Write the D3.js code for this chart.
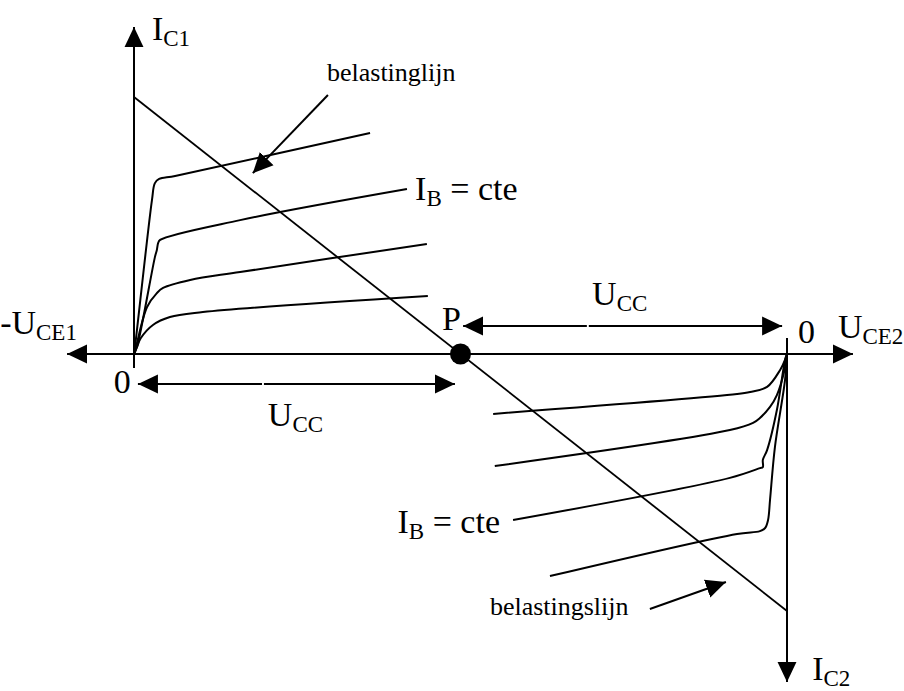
<!DOCTYPE html>
<html>
<head>
<meta charset="utf-8">
<script src="https://cdn.jsdelivr.net/npm/d3@7"></script>
<style>
  body { margin: 0; background: #fff; }
  svg text { font-family: 'Liberation Serif', 'Times New Roman', serif; fill: #000; }
</style>
</head>
<body>
<div id="chart"></div>
<script>
// U in units of Ucc, I in units of Imax. Transistor 2 has its origin at U = 2.
const loadLine = [[0, 1], [2, -1]];
const pointP = [1, 0];

// transistor 1 output curves (U_CE1, I_C1)
const curves1 = [
  [[0, 0], [0.003, 0.027], [0.055, 0.599], [0.064, 0.665], [0.077, 0.681], [0.126, 0.693], [0.723, 0.860]],
  [[0, 0], [0.009, 0.027], [0.064, 0.377], [0.070, 0.405], [0.074, 0.432], [0.080, 0.444], [0.325, 0.521], [0.836, 0.642]],
  [[0, 0], [0.006, 0.027], [0.040, 0.183], [0.070, 0.237], [0.089, 0.257], [0.172, 0.288], [0.325, 0.319], [0.897, 0.428]],
  [[0, 0], [0.009, 0.027], [0.021, 0.062], [0.058, 0.113], [0.110, 0.144], [0.211, 0.163], [0.900, 0.226]]
];

// transistor 2 curves (|U_CE2|, |I_C2|) measured from its own origin
const curves2 = [
  [[0, 0], [0.006, 0.023], [0.021, 0.062], [0.061, 0.128], [0.113, 0.148], [0.153, 0.156], [0.900, 0.233]],
  [[0, 0], [0.009, 0.070], [0.031, 0.160], [0.052, 0.206], [0.083, 0.249], [0.104, 0.268], [0.175, 0.296], [0.895, 0.436]],
  [[0, 0], [0.006, 0.023], [0.031, 0.218], [0.061, 0.374], [0.074, 0.412], [0.074, 0.440], [0.083, 0.444], [0.175, 0.482], [0.839, 0.646]],
  [[0, 0], [0.006, 0.101], [0.037, 0.362], [0.052, 0.568], [0.058, 0.646], [0.067, 0.677], [0.083, 0.689], [0.153, 0.700], [0.726, 0.864]]
];

// axes: [u, i] start and arrow tip
const axes = [
  [[-0.205, 0], [2.202, 0]],
  [[0, -0.054], [0, 1.272]],
  [[2, 0.062], [2, -1.276]]
];
// the common horizontal axis has arrows on both ends
const axisBothEnds = [true, false, false];

// Ucc dimension arrows: level i, from, to, small break
const uccArrows = [
  { i: 0.109, from: 1.008, to: 1.985, gap: 1.39 },
  { i: -0.117, from: 0.012, to: 0.983, gap: 0.395 }
];

// pointer arrows for the load line labels: start, tip
const pointers = [
  [[0.594, 1.008], [0.364, 0.704]],
  [[1.580, -0.992], [1.813, -0.887]]
];

// labels: main text, subscript, trailing text, position, size, anchor
const labels = [
  { t: 'I', sub: 'C1', u: 0.055, i: 1.222 },
  { t: 'belastinglijn', u: 0.591, i: 1.062, size: 26 },
  { t: 'I', sub: 'B', rest: ' = cte', u: 0.861, i: 0.599 },
  { t: '-U', sub: 'CE1', u: -0.410, i: 0.078 },
  { t: 'P', u: 0.943, i: 0.093 },
  { t: 'U', sub: 'CC', u: 1.403, i: 0.191 },
  { t: '0', u: 2.034, i: 0.043 },
  { t: 'U', sub: 'CE2', u: 2.156, i: 0.062 },
  { t: '0', u: -0.062, i: -0.152 },
  { t: 'U', sub: 'CC', u: 0.410, i: -0.280 },
  { t: 'I', sub: 'B', rest: ' = cte', u: 1.121, i: -0.696, anchor: 'end' },
  { t: 'belastingslijn', u: 1.090, i: -1.016, size: 26 },
  { t: 'I', sub: 'C2', u: 2.077, i: -1.268 }
];

const W = 904, H = 691;
const x = d3.scaleLinear().domain([0, 2]).range([134, 787]);
const y = d3.scaleLinear().domain([-1, 1]).range([611, 97]);

const svg = d3.select('#chart').append('svg')
  .attr('width', W).attr('height', H)
  .style('display', 'block');

const defs = svg.append('defs');
defs.append('marker')
  .attr('id', 'head')
  .attr('markerUnits', 'userSpaceOnUse')
  .attr('viewBox', '0 -10 20 20')
  .attr('refX', 20).attr('refY', 0)
  .attr('markerWidth', 20).attr('markerHeight', 20)
  .attr('orient', 'auto-start-reverse')
  .append('path')
  .attr('d', 'M0,-9.5L20,0L0,9.5Z')
  .attr('fill', '#000');

const line = d3.line().x(d => x(d[0])).y(d => y(d[1]));
const curve = d3.line().x(d => x(d[0])).y(d => y(d[1])).curve(d3.curveCatmullRom.alpha(0.5));
const curve2 = d3.line().x(d => x(2 - d[0])).y(d => y(-d[1])).curve(d3.curveCatmullRom.alpha(0.5));

// axes
svg.selectAll('.axis')
  .data(axes)
  .enter()
  .append('path')
  .attr('class', 'axis')
  .attr('d', line)
  .attr('fill', 'none')
  .attr('stroke', '#000')
  .attr('stroke-width', 2)
  .attr('marker-end', 'url(#head)')
  .attr('marker-start', (d, k) => axisBothEnds[k] ? 'url(#head)' : null);

// load line
svg.append('path')
  .attr('d', line(loadLine))
  .attr('fill', 'none')
  .attr('stroke', '#000')
  .attr('stroke-width', 1.8);

// output curves
svg.selectAll('.c1')
  .data(curves1)
  .enter()
  .append('path')
  .attr('class', 'c1')
  .attr('d', curve)
  .attr('fill', 'none')
  .attr('stroke', '#000')
  .attr('stroke-width', 2);

svg.selectAll('.c2')
  .data(curves2)
  .enter()
  .append('path')
  .attr('class', 'c2')
  .attr('d', curve2)
  .attr('fill', 'none')
  .attr('stroke', '#000')
  .attr('stroke-width', 2);

// Ucc dimension arrows, drawn as two halves with a tiny break
uccArrows.forEach(a => {
  svg.append('path')
    .attr('d', line([[a.gap - 0.003, a.i], [a.from, a.i]]))
    .attr('stroke', '#000').attr('stroke-width', 2)
    .attr('marker-end', 'url(#head)');
  svg.append('path')
    .attr('d', line([[a.gap + 0.003, a.i], [a.to, a.i]]))
    .attr('stroke', '#000').attr('stroke-width', 2)
    .attr('marker-end', 'url(#head)');
});

// pointers to the load line
svg.selectAll('.pointer')
  .data(pointers)
  .enter()
  .append('path')
  .attr('class', 'pointer')
  .attr('d', line)
  .attr('stroke', '#000')
  .attr('stroke-width', 2)
  .attr('marker-end', 'url(#head)');

// operating point P
svg.append('circle')
  .attr('cx', x(pointP[0]))
  .attr('cy', y(pointP[1]))
  .attr('r', 10.5)
  .attr('fill', '#000');

// labels
const txt = svg.selectAll('.lbl')
  .data(labels)
  .enter()
  .append('text')
  .attr('class', 'lbl')
  .attr('x', d => x(d.u))
  .attr('y', d => y(d.i))
  .attr('text-anchor', d => d.anchor || 'start')
  .style('font-size', d => (d.size || 34) + 'px');

txt.append('tspan').text(d => d.t);
txt.filter(d => d.sub)
  .append('tspan')
  .attr('dy', 6)
  .style('font-size', '23px')
  .text(d => d.sub);
txt.filter(d => d.rest)
  .append('tspan')
  .attr('dy', -6)
  .text(d => d.rest);
</script>
</body>
</html>
